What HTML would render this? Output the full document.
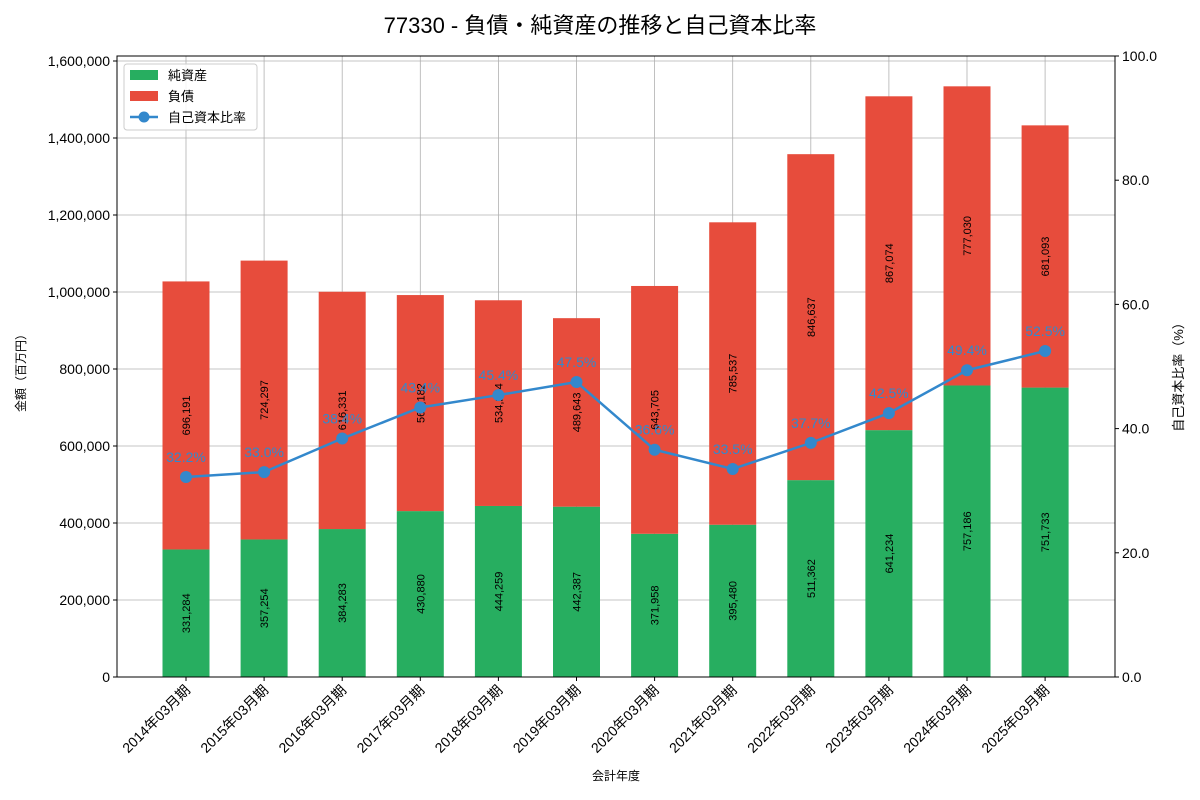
<!DOCTYPE html>
<html><head><meta charset="utf-8">
<style>
body{margin:0;background:#fff;}
svg{display:block;font-family:"Liberation Sans","Noto Sans CJK JP",sans-serif;}
</style></head>
<body>
<svg id="chart" width="1200" height="800" viewBox="0 0 1200 800"></svg>
<script>
const categories=["2014年03月期","2015年03月期","2016年03月期","2017年03月期","2018年03月期","2019年03月期","2020年03月期","2021年03月期","2022年03月期","2023年03月期","2024年03月期","2025年03月期"];
const netAssets=[331284,357254,384283,430880,444259,442387,371958,395480,511362,641234,757186,751733];
const liabilities=[696191,724297,616331,561182,534274,489643,643705,785537,846637,867074,777030,681093];
const ratios=[32.2,33.0,38.4,43.4,45.4,47.5,36.6,33.5,37.7,42.5,49.4,52.5];
const leftTicks=[0,200000,400000,600000,800000,1000000,1200000,1400000,1600000];
const rightTicks=[0,20,40,60,80,100];

const svg=document.getElementById('chart');
const NS='http://www.w3.org/2000/svg';
function mk(tag,attrs,parent){const e=document.createElementNS(NS,tag);for(const k in attrs)e.setAttribute(k,attrs[k]);(parent||svg).appendChild(e);return e;}
const L=117,R=1115,T=56,B=677;
const yL=v=>B-v*(616/1600000);
const yR=v=>B-v*(B-T)/100;
const xC=i=>186+i*78.1;
const bw=47;
const fmt=v=>v.toLocaleString('en-US');

// grid
const grid=mk('g',{});


leftTicks.forEach(v=>{mk('line',{x1:L,x2:R,y1:yL(v),y2:yL(v),stroke:'#b0b0b0','stroke-width':0.8},grid);});
categories.forEach((c,i)=>{mk('line',{x1:xC(i),x2:xC(i),y1:T,y2:B,stroke:'#b0b0b0','stroke-width':0.8},grid);});

// bars
categories.forEach((c,i)=>{
  const x=xC(i)-bw/2;
  const yn=yL(netAssets[i]), yt=yL(netAssets[i]+liabilities[i]);
  const b1=mk('rect',{x:x,y:yn,width:bw,height:B-yn,fill:'#27ae60'});
  
  
  const b2=mk('rect',{x:x,y:yt,width:bw,height:yn-yt,fill:'#e74c3c'});
  
  
  const t1=mk('text',{x:0,y:0,transform:`translate(${xC(i)+4},${(yn+B)/2}) rotate(-90)`,'text-anchor':'middle','font-size':11,fill:'#000'});
  t1.textContent=fmt(netAssets[i]);
  
  
  const t2=mk('text',{x:0,y:0,transform:`translate(${xC(i)+4},${(yn+yt)/2}) rotate(-90)`,'text-anchor':'middle','font-size':11,fill:'#000'});
  t2.textContent=fmt(liabilities[i]);
  
  
});

// ratio line
const pts=ratios.map((r,i)=>xC(i)+','+yR(r)).join(' ');
const pl=mk('polyline',{points:pts,fill:'none',stroke:'#3388cc','stroke-width':2.5});


ratios.forEach((r,i)=>{
  const c=mk('circle',{cx:xC(i),cy:yR(r),r:6,fill:'#3388cc'});
  
  
  const t=mk('text',{x:xC(i),y:yR(r)-15,'text-anchor':'middle','font-size':14,fill:'#3388cc'});
  t.textContent=r.toFixed(1)+'%';
  
  
});

// axes frame
mk('rect',{x:L,y:T,width:R-L,height:B-T,fill:'none',stroke:'#000','stroke-width':1});

// left ticks
leftTicks.forEach(v=>{
  mk('line',{x1:L-4,x2:L,y1:yL(v),y2:yL(v),stroke:'#000'});
  const t=mk('text',{x:L-7,y:yL(v)+5,'text-anchor':'end','font-size':14,fill:'#000'});
  t.textContent=fmt(v);
  
  
});
rightTicks.forEach(v=>{
  mk('line',{x1:R,x2:R+4,y1:yR(v),y2:yR(v),stroke:'#000'});
  const t=mk('text',{x:R+7,y:yR(v)+5,'text-anchor':'start','font-size':14,fill:'#000'});
  t.textContent=v.toFixed(1);
  
  
});
categories.forEach((c,i)=>{
  mk('line',{x1:xC(i),x2:xC(i),y1:B,y2:B+4,stroke:'#000'});
  const t=mk('text',{x:0,y:0,transform:`translate(${xC(i)+5},${B+14}) rotate(-45)`,'text-anchor':'end','font-size':14,fill:'#000'});
  t.textContent=c;
  
  
});
</script>
<svg style="position:absolute;left:0;top:0" width="1200" height="800">
<text x="600" y="33" text-anchor="middle" font-size="22" font-family="Liberation Sans,Noto Sans CJK JP,sans-serif">77330 - 負債・純資産の推移と自己資本比率</text>
<text x="616" y="780" text-anchor="middle" font-size="12" font-family="Liberation Sans,Noto Sans CJK JP,sans-serif">会計年度</text>
<text transform="translate(25,370) rotate(-90)" text-anchor="middle" font-size="12" font-family="Liberation Sans,Noto Sans CJK JP,sans-serif">金額（百万円）</text>
<text transform="translate(1183,374) rotate(-90)" text-anchor="middle" font-size="13" font-family="Liberation Sans,Noto Sans CJK JP,sans-serif">自己資本比率（%）</text>
<g font-family="Liberation Sans,Noto Sans CJK JP,sans-serif" font-size="13">
<rect x="124" y="64" width="133" height="66" fill="#fff" fill-opacity="0.85" stroke="#ccc" rx="3"/>
<g><rect x="130" y="70" width="28" height="10" fill="#27ae60"/><text x="168" y="80">純資産</text></g>
<g><rect x="130" y="91" width="28" height="10" fill="#e74c3c"/><text x="168" y="101">負債</text></g>
<g><line x1="130" x2="158" y1="117" y2="117" stroke="#3388cc" stroke-width="2.5"/><circle cx="144" cy="117" r="5.5" fill="#3388cc"/><text x="168" y="122">自己資本比率</text></g>
</g>
</svg>
</body></html>
